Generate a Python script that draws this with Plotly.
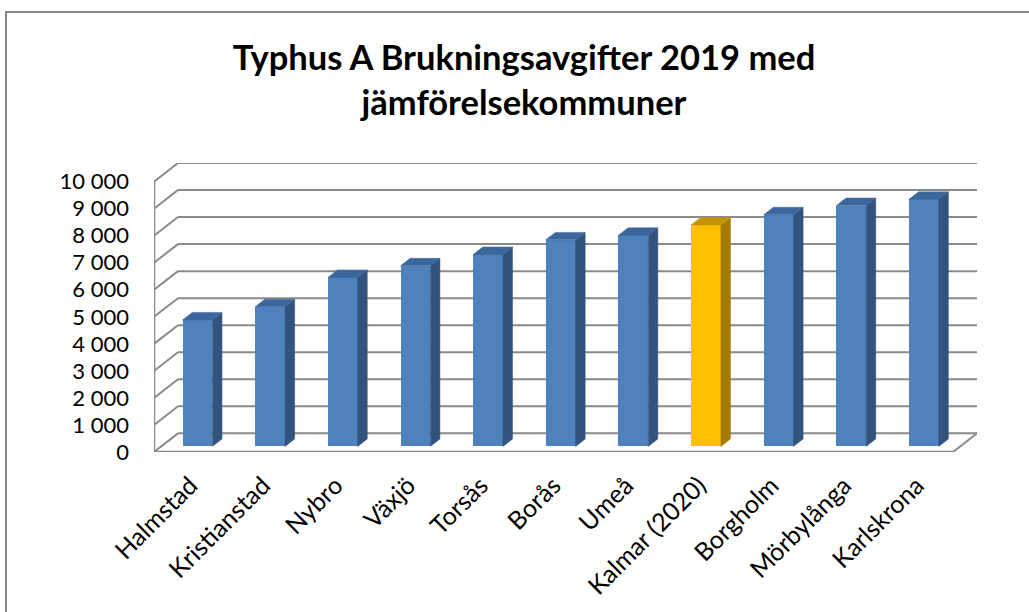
import plotly.graph_objects as go

# ---- data ----
categories = ["Halmstad", "Kristianstad", "Nybro", "Växjö", "Torsås", "Borås",
              "Umeå", "Kalmar (2020)", "Borgholm", "Mörbylånga", "Karlskrona"]
values = [4680, 5170, 6250, 6680, 7100, 7640, 7810, 8190, 8570, 8910, 9140]
highlight = "Kalmar (2020)"
y_ticks = list(range(0, 10001, 1000))
y_ticktext = ["0" if v == 0 else f"{v // 1000} 000" for v in y_ticks]
title_text = "Typhus A Brukningsavgifter 2019 med<br>jämförelsekommuner"

# ---- style / pseudo-3D geometry ----
DX, DY = 0.33, 690          # full depth offset (x in category units, y in value units)
BAR_FRONT, BAR_DEPTH = 0.30, 0.40
BAR_W = 0.41
FONT = "Lato"
GRID = "#8a8a8a"
BLUE = ("#4F81BD", "#32537E", "#3C679C")      # front, side, top
GOLD = ("#FFC000", "#A67C00", "#C49300")

n = len(categories)
ox, oy = BAR_FRONT * DX, BAR_FRONT * DY
sx, sy = BAR_DEPTH * DX, BAR_DEPTH * DY
xmin, xmax = -0.5, n - 0.5 + DX
ymax = y_ticks[-1] + DY

fig = go.Figure()

# front faces as real bars
front_colors = [GOLD[0] if c == highlight else BLUE[0] for c in categories]
fig.add_trace(go.Bar(
    x=[i + ox for i in range(n)], y=values, base=oy, width=BAR_W,
    marker=dict(color=front_colors, line=dict(width=0)),
    hovertext=categories, hoverinfo="text+y", showlegend=False))

# side and top faces computed from the values
def faces(idx_list, kind):
    xs, ys = [], []
    for i in idx_list:
        v = values[i]
        xl = i + ox - BAR_W / 2
        xr = i + ox + BAR_W / 2
        if kind == "side":
            px = [xr, xr + sx, xr + sx, xr, xr]
            py = [oy, oy + sy, oy + v + sy, oy + v, oy]
        else:
            px = [xl, xl + sx, xr + sx, xr, xl]
            py = [oy + v, oy + v + sy, oy + v + sy, oy + v, oy + v]
        xs += px + [None]
        ys += py + [None]
    return xs, ys

blue_idx = [i for i, c in enumerate(categories) if c != highlight]
gold_idx = [i for i, c in enumerate(categories) if c == highlight]
for idx, pal in ((blue_idx, BLUE), (gold_idx, GOLD)):
    for kind, col in (("side", pal[1]), ("top", pal[2])):
        xs, ys = faces(idx, kind)
        fig.add_trace(go.Scatter(x=xs, y=ys, mode="lines", fill="toself",
                                 fillcolor=col, line=dict(width=0.5, color=col),
                                 hoverinfo="skip", showlegend=False))

# walls, floor and gridlines (behind the bars)
shapes = []
for v in y_ticks:
    shapes.append(dict(type="line", x0=xmin + DX, x1=n - 0.5 + DX, y0=v + DY, y1=v + DY,
                       line=dict(color=GRID, width=2), layer="below"))
    shapes.append(dict(type="line", x0=xmin, x1=xmin + DX, y0=v, y1=v + DY,
                       line=dict(color=GRID, width=2), layer="below"))
shapes.append(dict(type="line", x0=xmin, x1=xmin, y0=0, y1=y_ticks[-1],
                   line=dict(color=GRID, width=2.5), layer="below"))
shapes.append(dict(type="line", x0=xmin, x1=n - 0.5, y0=0, y1=0,
                   line=dict(color=GRID, width=2.5), layer="below"))
shapes.append(dict(type="line", x0=n - 0.5, x1=n - 0.5 + DX, y0=0, y1=DY,
                   line=dict(color=GRID, width=2), layer="below"))
# outer chart border
L, R, T, B = 154, 52, 163, 160
W, H = 1029, 612
pw, ph = W - L - R, H - T - B
shapes.append(dict(type="rect", xref="paper", yref="paper",
                   x0=(6 - L) / pw, x1=(W + 10 - L) / pw,
                   y0=(H - B - (H + 10)) / ph, y1=(H - B - 12) / ph,
                   line=dict(color="#888888", width=2), fillcolor="rgba(0,0,0,0)"))

fig.update_layout(
    width=W, height=H,
    margin=dict(l=L, r=R, t=T, b=B, pad=0, autoexpand=False),
    paper_bgcolor="white", plot_bgcolor="white",
    shapes=shapes,
    title=dict(text=title_text, x=524 / W, xanchor="center", xref="container",
               y=1 - 70 / H, yanchor="top", yref="container",
               font=dict(family=FONT, size=34.5, color="black", weight="bold")),
    xaxis=dict(range=[xmin, xmax], tickvals=list(range(n)), ticktext=categories,
               tickangle=-45, showgrid=False, zeroline=False, showline=False,
               ticks="", ticklabelstandoff=13, automargin=False,
               tickfont=dict(family=FONT, size=25, color="black")),
    yaxis=dict(range=[0, ymax], tickvals=y_ticks, ticktext=y_ticktext,
               showgrid=False, zeroline=False, showline=False, ticks="",
               ticklabelstandoff=24, automargin=False,
               tickfont=dict(family=FONT, size=22, color="black")),
    bargap=0, showlegend=False,
)

fig.write_html("out.html", config={"displayModeBar": False},
               post_script="document.body.style.margin='0';document.body.style.overflow='hidden';")
